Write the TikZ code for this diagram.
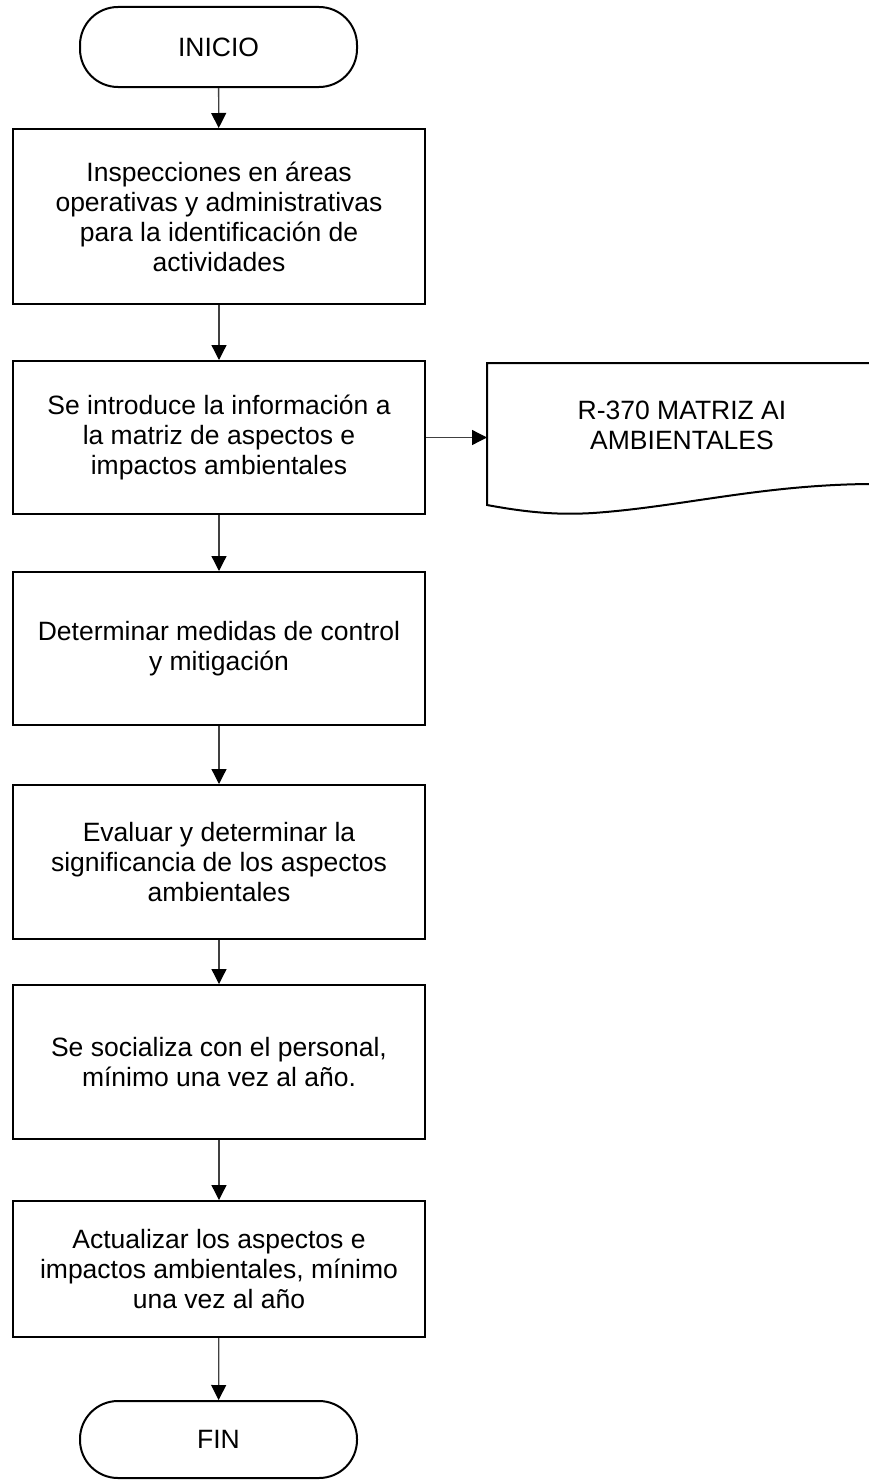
\documentclass[tikz,border=0pt]{standalone}
\usepackage{fontspec}
\setmainfont{Liberation Sans}
\usetikzlibrary{arrows.meta}

\tikzset{
  proc/.style={draw, line width=2pt, minimum width=412pt, align=center,
    inner sep=0pt, font=\fontsize{26.5}{30}\selectfont},
  term/.style={draw, line width=2pt, rounded corners=38pt, minimum width=277pt,
    align=center, inner sep=0pt, font=\fontsize{26.5}{30}\selectfont},
  flow/.style={draw=black!75, line width=1.3pt,
    arrows={-{Triangle[width=15pt,length=15pt,black]}}}
}

\begin{document}
\begin{tikzpicture}
  \useasboundingbox (0,0) rectangle (869pt,-1480pt);
  \begin{scope}[x=1pt, y=-1pt]
    % Start and end.
    \node [term, minimum height=80pt] (inicio) at (218.5, 47) {INICIO};
    \node [term, minimum height=77pt] (fin) at (218.5, 1439.5) {FIN};

    % Process steps.
    \node [proc, minimum height=175pt] (insp) at (219, 216.5)
      {Inspecciones en áreas\\operativas y administrativas\\para la identificación de\\actividades};
    \node [proc, minimum height=153pt] (intro) at (219, 437.5)
      {Se introduce la información a\\la matriz de aspectos e\\impactos ambientales};
    \node [proc, minimum height=153pt] (medidas) at (219, 648.5)
      {Determinar medidas de control\\y mitigación};
    \node [proc, minimum height=154pt] (evaluar) at (219, 862)
      {Evaluar y determinar la\\significancia de los aspectos\\ambientales};
    \node [proc, minimum height=154pt] (social) at (219, 1062)
      {Se socializa con el personal,\\mínimo una vez al año.};
    \node [proc, minimum height=136pt] (actual) at (219, 1269)
      {Actualizar los aspectos e\\impactos ambientales, mínimo\\una vez al año};

    % Draw document (record).
    \draw [line width=2pt] (869, 363) -- (487, 363) -- (487, 505)
      .. controls (530, 513) and (560, 515) .. (593, 513)
      .. controls (680, 507) and (760, 485) .. (869, 484);
    \node [align=center, font=\fontsize{26.5}{30}\selectfont] (matriz) at (682, 425)
      {R-370 MATRIZ AI\\AMBIENTALES};
    \coordinate (matrizin) at (487, 437.5);

    % Draw connectors.
    \draw [flow] (inicio) -- (insp);
    \draw [flow] (insp) -- (intro);
    \draw [flow] (intro) -- (medidas);
    \draw [flow] (medidas) -- (evaluar);
    \draw [flow] (evaluar) -- (social);
    \draw [flow] (social) -- (actual);
    \draw [flow] (actual) -- (fin);
    \draw [flow] (intro.east) -- (matrizin);
  \end{scope}
\end{tikzpicture}
\end{document}
